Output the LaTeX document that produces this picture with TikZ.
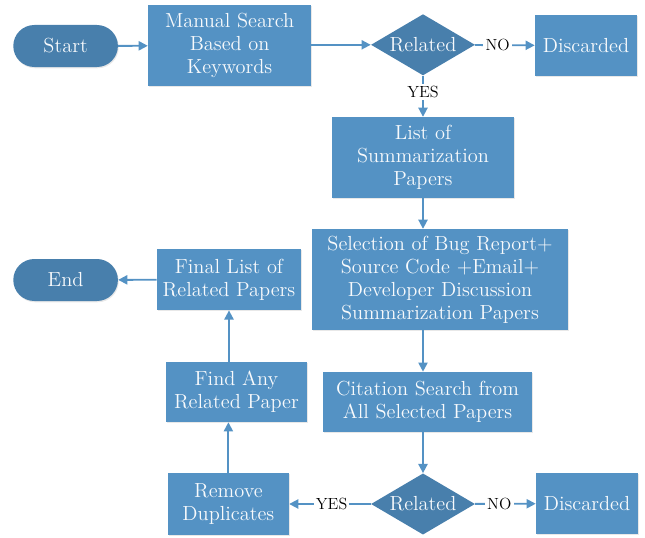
\documentclass[tikz,border=0pt]{standalone}
\usepackage{xcolor}
\usepackage{tikz}
\usetikzlibrary{shapes.geometric, shapes.misc, arrows.meta, shadows}
\definecolor{boxblue}{RGB}{84, 146, 196}
\definecolor{decblue}{RGB}{72, 127, 172}
\definecolor{txtwhite}{RGB}{248, 250, 252}

\begin{document}
\begin{tikzpicture}[
  proc/.style={draw=none, rectangle, fill=boxblue, text=txtwhite, align=center, inner sep=2pt, font=\fontsize{14.5}{16.3}\selectfont, drop shadow={shadow xshift=0.6pt, shadow yshift=-0.9pt, opacity=0.18}},
  dec/.style={draw=none, diamond, aspect=1.7, inner sep=0pt, fill=decblue, text=txtwhite, minimum width=2.6cm, minimum height=1.53cm, font=\fontsize{14.5}{16.3}\selectfont},
  term/.style={draw=none, rounded rectangle, fill=decblue, text=txtwhite, minimum width=2.85cm, minimum height=1.05cm, font=\fontsize{14.5}{16.3}\selectfont, drop shadow={shadow xshift=0.6pt, shadow yshift=-0.9pt, opacity=0.18}},
  flow/.style={-{Triangle[length=6.5pt, width=6.5pt]}, line width=1.3pt, boxblue},
  lbl/.style={fill=white, text=black, inner sep=1.5pt, font=\fontsize{11.5}{13}\selectfont},
]
  \useasboundingbox (0,0) rectangle (16.125,-13.45);

  % Top row
  \node[term] (start) at (1.64,-1.15) {Start};
  \node[proc, minimum width=4.075cm, minimum height=2.025cm] (search) at (5.74,-1.14) {Manual Search\\Based on\\Keywords};
  \node[dec] (rel1) at (10.575,-1.12) {Related};
  \node[proc, minimum width=2.55cm, minimum height=1.525cm] (disc1) at (14.65,-1.14) {Discarded};

  % Middle column
  \node[proc, minimum width=4.55cm, minimum height=2.025cm] (list) at (10.575,-3.94) {List of\\Summarization\\Papers};
  \node[proc, minimum width=6.4cm, minimum height=2.525cm] (sel) at (11.0,-6.99) {Selection of Bug Report+\\Source Code +Email+\\Developer Discussion\\Summarization Papers};
  \node[proc, minimum width=5.225cm, minimum height=1.5cm] (cit) at (10.69,-10.05) {Citation Search from\\All Selected Papers};

  % Bottom row
  \node[dec] (rel2) at (10.575,-12.6) {Related};
  \node[proc, minimum width=2.55cm, minimum height=1.525cm] (disc2) at (14.675,-12.59) {Discarded};
  \node[proc, minimum width=3.025cm, minimum height=1.55cm] (remove) at (5.71,-12.6) {Remove\\Duplicates};

  % Left column
  \node[proc, minimum width=3.525cm, minimum height=1.5cm] (find) at (5.91,-9.8) {Find Any\\Related Paper};
  \node[proc, minimum width=3.6cm, minimum height=1.525cm] (final) at (5.725,-6.99) {Final List of\\Related Papers};
  \node[term] (end) at (1.64,-7.0) {End};

  % Connections
  \draw[flow] (start) -- (search);
  \draw[flow] (search.east |- rel1) -- (rel1);
  \draw[flow] (rel1) -- node[lbl, pos=0.38] {NO} (disc1);
  \draw[flow] (rel1) -- node[lbl, pos=0.4] {YES} (list);
  \draw[flow] (list.south) -- (list.south |- sel.north);
  \draw[flow] (rel2.north |- sel.south) -- (rel2.north |- cit.north);
  \draw[flow] (rel2.north |- cit.south) -- (rel2.north);
  \draw[flow] (rel2) -- node[lbl, pos=0.48] {YES} (remove);
  \draw[flow] (rel2) -- node[lbl, pos=0.4] {NO} (disc2);
  \draw[flow] (remove.north) -- (remove.north |- find.south);
  \draw[flow] (final.south |- find.north) -- (final.south);
  \draw[flow] (final) -- (end);
\end{tikzpicture}
\end{document}
